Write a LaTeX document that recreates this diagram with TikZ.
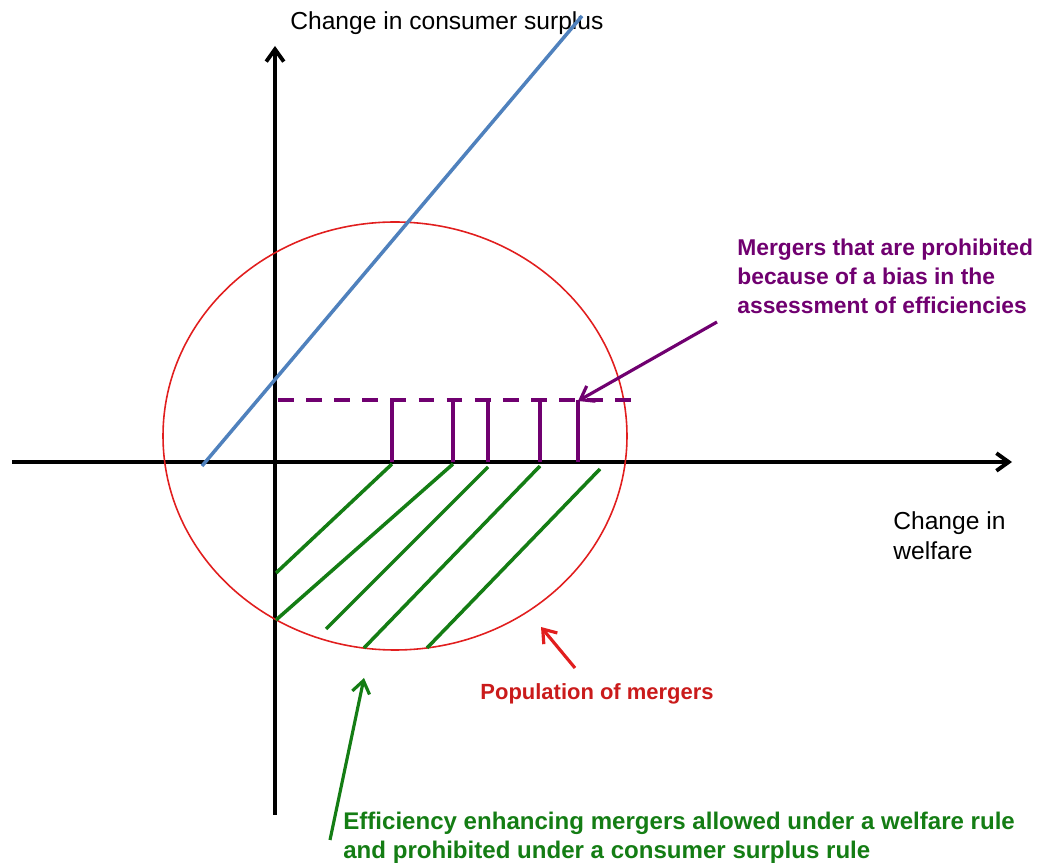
\documentclass[tikz,border=0pt]{standalone}
\usepackage{fontspec}
\setmainfont{Liberation Sans}
\usetikzlibrary{arrows.meta, positioning}
\definecolor{csblue}{RGB}{79,129,189}
\definecolor{popred}{RGB}{225,30,30}
\definecolor{biaspurple}{RGB}{112,0,112}
\definecolor{effgreen}{RGB}{20,125,20}

\begin{document}
\begin{tikzpicture}[x=0.02cm, y=-0.02cm, >={Straight Barb[length=7pt, width=10pt]}]
    \tikzset{axis/.style={draw=black, line width=2.2pt, ->},
        label text/.style={font=\fontsize{14}{17}\selectfont, align=left, inner sep=0pt},
        note text/.style={font=\bfseries\fontsize{12.5}{16.5}\selectfont, align=left, inner sep=0pt},
        purple line/.style={draw=biaspurple, line width=2pt},
        green line/.style={draw=effgreen, line width=2pt}
    }
    \useasboundingbox (0,0) rectangle (1039,864);

    % axes
    \coordinate (W-Start) at (12,462);
    \coordinate (W-End) at (1012,462);
    \coordinate (CS-Start) at (275,815);
    \coordinate (CS-End) at (275,46);
    \draw [axis] (W-Start) -- (W-End);
    \draw [axis] (CS-Start) -- (CS-End);
    \node (CS-Label) [label text, anchor=base west] at (290,30) {Change in consumer surplus};
    \node (W-Label) [label text, anchor=west] at (893,536) {Change in\\welfare};

    % population of mergers
    \draw [popred, line width=0.9pt] (395,436) ellipse [x radius=232, y radius=214];

    % blue line
    \coordinate (Blue-Start) at (202,466);
    \coordinate (Blue-End) at (582,16);
    \draw [csblue, line width=2pt] (Blue-Start) -- (Blue-End);

    % bias
    \draw [purple line, dash pattern=on 9pt off 7pt] (278,400) -- (632,400);
    \foreach \x in {392, 453, 488, 540, 578} {
        \draw [purple line] (\x,462) -- (\x,400);
    }

    % hatching
    \foreach \xa / \ya / \xb / \yb in {392/464/276/573, 453/464/276/620, 488/467/326/629, 540/466/364/648, 600/469/427/648} {
        \draw [green line] (\xa,\ya) -- (\xb,\yb);
    }

    % notes
    \node (Bias) [note text, text=biaspurple, font=\bfseries\fontsize{13}{16.5}\selectfont, anchor=west] at (737,276) {Mergers that are prohibited\\because of a bias in the\\assessment of efficiencies};
    \node (Pop) [note text, text=popred!90!black] at (597,694) {Population of mergers};
    \node (Eff) [note text, text=effgreen, font=\bfseries\fontsize{13.7}{16.5}\selectfont, anchor=west] at (343,838) {Efficiency enhancing mergers allowed under a welfare rule\\and prohibited under a consumer surplus rule};

    \coordinate (Bias-Tail) at (717,322);
    \coordinate (Bias-Head) at (578,401);
    \coordinate (Pop-Tail) at (575,668);
    \coordinate (Pop-Head) at (541,627);
    \coordinate (Eff-Tail) at (330,840);
    \coordinate (Eff-Head) at (364,678);
    \draw [->, biaspurple, line width=1.8pt] (Bias-Tail) -- (Bias-Head);
    \draw [->, popred, line width=1.8pt] (Pop-Tail) -- (Pop-Head);
    \draw [->, effgreen, line width=1.8pt] (Eff-Tail) -- (Eff-Head);
\end{tikzpicture}
\end{document}
